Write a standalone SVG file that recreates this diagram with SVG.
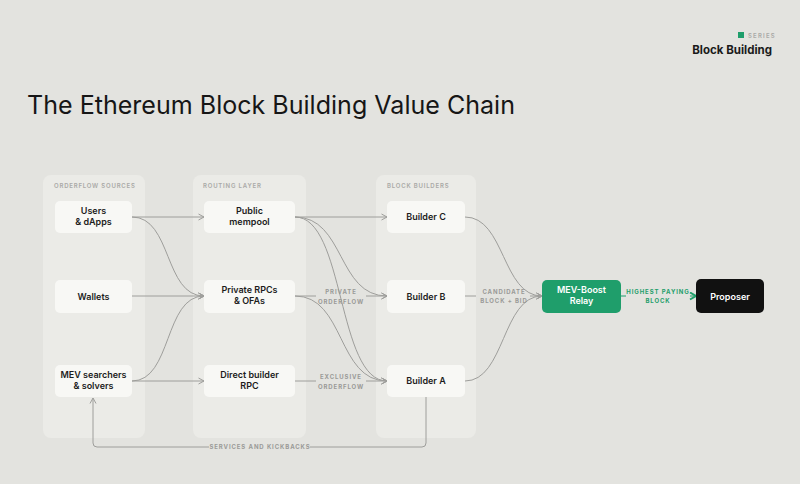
<svg xmlns="http://www.w3.org/2000/svg" width="800" height="484" viewBox="0 0 800 484">
<defs>
<style>
.panel{fill:#ebebe7}
.node{fill:#f8f8f5}
.nt{font-family:Inter,"Liberation Sans",sans-serif;font-size:9px;font-weight:600;fill:#1c1c1c;text-anchor:middle}
.ph{font-family:Inter,"Liberation Sans",sans-serif;font-size:6px;font-weight:600;fill:#a9a9a6;letter-spacing:0.8px}
.lbl{font-family:Inter,"Liberation Sans",sans-serif;font-size:6px;font-weight:700;fill:#9a9a97;letter-spacing:0.9px;text-anchor:middle}
.c{fill:none;stroke:#9e9e9b;stroke-width:1}
</style>
<marker id="ar" markerUnits="userSpaceOnUse" markerWidth="10" markerHeight="10" refX="7" refY="4" orient="auto"><path d="M1.5,1 L7,4 L1.5,7" fill="none" stroke="#9e9e9b" stroke-width="1"/></marker>
<marker id="arg" markerUnits="userSpaceOnUse" markerWidth="10" markerHeight="10" refX="7" refY="4" orient="auto"><path d="M1,0.5 L7,4 L1,7.5" fill="none" stroke="#1f9e6b" stroke-width="2"/></marker>
</defs>
<rect width="800" height="484" fill="#e3e3df"/>
<g id="header">
<rect x="738" y="32" width="6" height="6" fill="#1f9e6b"/>
<text x="748" y="38" font-family="Inter,'Liberation Sans',sans-serif" font-size="6" font-weight="600" fill="#a9a9a6" letter-spacing="1.2">SERIES</text>
<text x="772" y="54" text-anchor="end" font-family="Inter,'Liberation Sans',sans-serif" font-size="11.5" font-weight="700" fill="#1a1a1a">Block Building</text>
</g>
<text id="title" x="27" y="114" font-family="Inter,'Liberation Sans',sans-serif" font-size="25" font-weight="400" fill="#161616" textLength="488" lengthAdjust="spacingAndGlyphs">The Ethereum Block Building Value Chain</text>
<g id="panels">
<rect class="panel" x="43" y="175" width="102" height="263" rx="8"/>
<rect class="panel" x="193" y="175" width="113" height="263" rx="8"/>
<rect class="panel" x="376" y="175" width="100" height="263" rx="8"/>
<text class="ph" x="54" y="188">ORDERFLOW SOURCES</text>
<text class="ph" x="203" y="188">ROUTING LAYER</text>
<text class="ph" x="387" y="188">BLOCK BUILDERS</text>
</g>
<g id="connectors">
<path class="c" d="M132,217 H204" marker-end="url(#ar)"/>
<path class="c" d="M132,217 C172,217 164,296 204,296" marker-end="url(#ar)"/>
<path class="c" d="M132,296 H204" marker-end="url(#ar)"/>
<path class="c" d="M132,381 C172,381 164,296 204,296" marker-end="url(#ar)"/>
<path class="c" d="M132,381 H204" marker-end="url(#ar)"/>
<path class="c" d="M295,217 H387" marker-end="url(#ar)"/>
<path class="c" d="M295,217 C345,217 337,296 387,296" marker-end="url(#ar)"/>
<path class="c" d="M295,217 C345,217 337,381 387,381" marker-end="url(#ar)"/>
<path class="c" d="M295,296 C345,296 337,381 387,381" marker-end="url(#ar)"/>
<path class="c" d="M295,296 H316"/>
<path class="c" d="M366,296 H387" marker-end="url(#ar)"/>
<path class="c" d="M295,381 H316"/>
<path class="c" d="M366,381 H387" marker-end="url(#ar)"/>
<path class="c" d="M465,217 C505,217 502,296 542,296" marker-end="url(#ar)"/>
<path class="c" d="M465,381 C505,381 502,296 542,296" marker-end="url(#ar)"/>
<path class="c" d="M464,296 H476"/>
<path class="c" d="M530,296 H542" marker-end="url(#ar)"/>
<path d="M621,296 H626" fill="none" stroke="#1f9e6b" stroke-width="1"/>
<path d="M690,296 H696" fill="none" stroke="#1f9e6b" stroke-width="1" marker-end="url(#arg)"/>
<path class="c" d="M426,397 V443 Q426,447 422,447 H310"/>
<path class="c" d="M209,447 H97 Q93,447 93,443 V398" marker-end="url(#ar)"/>
<text class="lbl" x="341" y="294">PRIVATE</text>
<text class="lbl" x="341" y="304">ORDERFLOW</text>
<text class="lbl" x="341" y="379">EXCLUSIVE</text>
<text class="lbl" x="341" y="389">ORDERFLOW</text>
<text class="lbl" x="504" y="294">CANDIDATE</text>
<text class="lbl" x="504" y="303">BLOCK + BID</text>
<text class="lbl" x="658" y="294" style="fill:#1f9e6b">HIGHEST PAYING</text>
<text class="lbl" x="658" y="303" style="fill:#1f9e6b">BLOCK</text>
<text class="lbl" x="260" y="449">SERVICES AND KICKBACKS</text>
</g>
<g id="users"><rect class="node" x="55" y="201" width="77" height="32" rx="5"/><text class="nt" x="93.5" y="214">Users</text><text class="nt" x="93.5" y="225">&amp; dApps</text></g>
<g id="wallets"><rect class="node" x="55" y="280" width="77" height="33" rx="5"/><text class="nt" x="93.5" y="299.5">Wallets</text></g>
<g id="searchers"><rect class="node" x="55" y="365" width="77" height="32" rx="5"/><text class="nt" x="93.5" y="378">MEV searchers</text><text class="nt" x="93.5" y="389">&amp; solvers</text></g>
<g id="mempool"><rect class="node" x="204" y="201" width="91" height="32" rx="5"/><text class="nt" x="249.5" y="214">Public</text><text class="nt" x="249.5" y="225">mempool</text></g>
<g id="private-rpcs"><rect class="node" x="204" y="280" width="91" height="33" rx="5"/><text class="nt" x="249.5" y="293">Private RPCs</text><text class="nt" x="249.5" y="304">&amp; OFAs</text></g>
<g id="direct-rpc"><rect class="node" x="204" y="365" width="91" height="32" rx="5"/><text class="nt" x="249.5" y="378">Direct builder</text><text class="nt" x="249.5" y="389">RPC</text></g>
<g id="builder-c"><rect class="node" x="387" y="201" width="78" height="32" rx="5"/><text class="nt" x="426" y="220">Builder C</text></g>
<g id="builder-b"><rect class="node" x="387" y="280" width="78" height="33" rx="5"/><text class="nt" x="426" y="299.5">Builder B</text></g>
<g id="builder-a"><rect class="node" x="387" y="365" width="78" height="32" rx="5"/><text class="nt" x="426" y="384">Builder A</text></g>
<g id="relay"><rect x="542" y="280" width="79" height="33" rx="5" fill="#1f9e6b"/><text class="nt" x="581.5" y="293" style="fill:#fff">MEV-Boost</text><text class="nt" x="581.5" y="304" style="fill:#fff">Relay</text></g>
<g id="proposer"><rect x="696" y="279" width="68" height="34" rx="5" fill="#111111"/><text class="nt" x="730" y="299.5" style="fill:#fff">Proposer</text></g>
</svg>
